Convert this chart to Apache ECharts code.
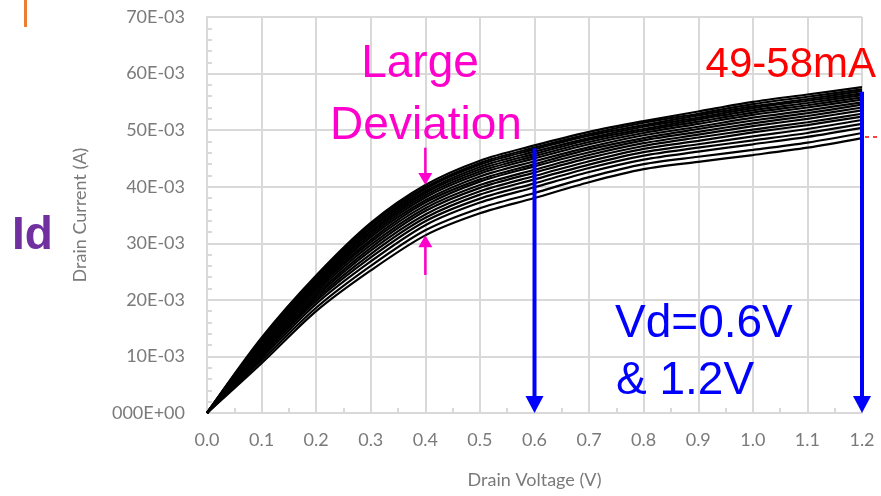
<!DOCTYPE html>
<html>
<head>
<meta charset="utf-8">
<script src="https://cdn.jsdelivr.net/npm/echarts@6/dist/echarts.min.js"></script>
<style>
  html, body { margin: 0; padding: 0; background: #fff; }
  #chart { width: 881px; height: 496px; }
</style>
</head>
<body>
<div id="chart"></div>
<script>
// drain voltage steps (V)
const volts = [0, 0.1, 0.2, 0.3, 0.4, 0.5, 0.6, 0.7, 0.8, 0.9, 1.0, 1.1, 1.2];

// drain current curves in mA (top of the band first)
const curves = [
  [0, 13.3, 24.3, 33.6, 40.3, 44.6, 47.3, 49.7, 51.6, 53.3, 55.0, 56.3, 57.6],
  [0, 13.1, 24.0, 33.3, 39.9, 44.2, 46.9, 49.3, 51.3, 52.9, 54.6, 55.9, 57.2],
  [0, 12.9, 23.8, 32.9, 39.6, 43.9, 46.6, 49.0, 50.9, 52.6, 54.2, 55.5, 56.9],
  [0, 12.8, 23.5, 32.6, 39.2, 43.5, 46.2, 48.6, 50.6, 52.2, 53.9, 55.2, 56.5],
  [0, 12.6, 23.3, 32.2, 38.9, 43.1, 45.8, 48.3, 50.2, 51.9, 53.5, 54.8, 56.2],
  [0, 12.4, 23.0, 31.9, 38.5, 42.7, 45.4, 47.9, 49.9, 51.5, 53.1, 54.4, 55.8],
  [0, 12.2, 22.7, 31.5, 38.1, 42.3, 45.0, 47.5, 49.5, 51.1, 52.7, 54.0, 55.4],
  [0, 12.0, 22.4, 31.1, 37.6, 41.8, 44.5, 47.0, 49.1, 50.6, 52.2, 53.5, 54.9],
  [0, 11.7, 22.1, 30.6, 37.2, 41.3, 44.0, 46.6, 48.6, 50.2, 51.7, 53.0, 54.5],
  [0, 11.5, 21.8, 30.2, 36.7, 40.9, 43.6, 46.1, 48.2, 49.7, 51.2, 52.5, 54.0],
  [0, 11.2, 21.4, 29.7, 36.2, 40.3, 43.0, 45.6, 47.7, 49.2, 50.7, 52.0, 53.5],
  [0, 11.0, 21.0, 29.2, 35.7, 39.8, 42.5, 45.1, 47.2, 48.7, 50.1, 51.4, 52.9],
  [0, 10.7, 20.6, 28.7, 35.1, 39.2, 41.9, 44.5, 46.7, 48.1, 49.6, 50.9, 52.4],
  [0, 10.4, 20.2, 28.1, 34.5, 38.6, 41.3, 43.9, 46.1, 47.5, 48.9, 50.2, 51.8],
  [0, 10.1, 19.8, 27.5, 33.9, 37.9, 40.6, 43.3, 45.5, 46.9, 48.2, 49.5, 51.1],
  [0, 9.7, 19.3, 26.8, 33.2, 37.2, 39.9, 42.6, 44.8, 46.2, 47.5, 48.8, 50.4],
  [0, 9.3, 18.6, 26.0, 32.3, 36.2, 38.9, 41.7, 44.0, 45.3, 46.5, 47.8, 49.5],
  [0, 8.8, 18.0, 25.2, 31.4, 35.3, 38.0, 40.8, 43.1, 44.4, 45.6, 46.9, 48.6]
];

// y tick labels, one per 10 mA
const yTickLabels = ['000E+00', '10E-03', '20E-03', '30E-03', '40E-03', '50E-03', '60E-03', '70E-03'];

const gridColor = '#d9d9d9';
const labelColor = '#7a7a7a';
const axisFont = 'Lato, "Noto Sans", sans-serif';
const textFont = '"Liberation Sans", Arial, sans-serif';

const chart = echarts.init(document.getElementById('chart'));

const series = curves.map(c => ({
  type: 'line',
  data: volts.map((v, i) => [v, c[i]]),
  showSymbol: false,
  smooth: 0.3,
  silent: true,
  lineStyle: { color: '#000', width: 2.2 },
  z: 3
}));

chart.setOption({
  animation: false,
  grid: { left: 207, right: 19, top: 17, bottom: 83 },
  xAxis: {
    type: 'value',
    min: 0,
    max: 1.2,
    interval: 0.1,
    name: 'Drain Voltage (V)',
    nameLocation: 'middle',
    nameGap: 58,
    nameTextStyle: { color: labelColor, fontFamily: axisFont, fontSize: 18 },
    axisLine: { lineStyle: { color: gridColor, width: 2 } },
    axisTick: { show: true, inside: true, length: 5, lineStyle: { color: gridColor, width: 2 } },
    minorTick: { show: true, splitNumber: 2, length: 5, lineStyle: { color: gridColor, width: 2 } },
    splitLine: { show: true, lineStyle: { color: gridColor, width: 2 } },
    axisLabel: {
      color: labelColor, fontFamily: axisFont, fontSize: 18, margin: 18,
      formatter: v => v.toFixed(1)
    }
  },
  yAxis: {
    type: 'value',
    min: 0,
    max: 70,
    interval: 10,
    name: 'Drain Current (A)',
    nameLocation: 'middle',
    nameGap: 118,
    nameTextStyle: { color: labelColor, fontFamily: axisFont, fontSize: 18 },
    axisLine: { show: true, lineStyle: { color: gridColor, width: 2 } },
    axisTick: { show: true, inside: true, length: 5, lineStyle: { color: gridColor, width: 2 } },
    minorTick: { show: true, splitNumber: 5, length: 5, lineStyle: { color: gridColor, width: 2 } },
    splitLine: { show: true, lineStyle: { color: gridColor, width: 2 } },
    axisLabel: {
      color: labelColor, fontFamily: axisFont, fontSize: 18, margin: 22,
      formatter: v => yTickLabels[Math.round(v / 10)]
    }
  },
  series: series
});

// annotations, anchored in data space
const px = p => chart.convertToPixel({ gridIndex: 0 }, p);

function arrow(from, to, color, width, head, headLen) {
  const a = px(from), b = px(to);
  const dir = Math.sign(b[1] - a[1]);
  const base = b[1] - dir * headLen;
  return [
    { type: 'line', shape: { x1: a[0], y1: a[1], x2: b[0], y2: base + dir * 1 },
      style: { stroke: color, lineWidth: width }, z: 10 },
    { type: 'polygon', shape: { points: [[b[0] - head / 2, base], [b[0] + head / 2, base], [b[0], b[1]]] },
      style: { fill: color }, z: 10 }
  ];
}

const redPt = px([1.2, 48.8]);
const graphic = [].concat(
  arrow([0.6, 46.8], [0.6, 0], '#0000ff', 4, 18, 17),
  arrow([1.2, 56.8], [1.2, 0], '#0000ff', 4, 18, 17),
  arrow([0.4, 46.9], [0.4, 40.3], '#ff00cc', 2.5, 14, 12),
  arrow([0.4, 24.4], [0.4, 31.4], '#ff00cc', 2.5, 14, 12),
  [
    { type: 'line', shape: { x1: redPt[0] + 3, y1: redPt[1], x2: 881, y2: redPt[1] },
      style: { stroke: '#ff0000', lineWidth: 1.5, lineDash: [4, 4] }, z: 9 },
    { type: 'rect', shape: { x: 24, y: 0, width: 3, height: 27 }, style: { fill: '#ed7d31' } },
    { type: 'text', x: 12, y: 236,
      style: { text: 'Id', font: 'bold 46px ' + textFont, fill: '#7030a0', verticalAlign: 'middle' } },
    { type: 'text', x: 420, y: 41, z: 11,
      style: { text: 'Large', font: '46px ' + textFont, fill: '#ff00cc', align: 'center', verticalAlign: 'top' } },
    { type: 'text', x: 426, y: 103, z: 11,
      style: { text: 'Deviation', font: '46px ' + textFont, fill: '#ff00cc', align: 'center', verticalAlign: 'top' } },
    { type: 'text', x: 876, y: 44, z: 11,
      style: { text: '49-58mA', font: '42px ' + textFont, fill: '#ff0000', align: 'right', verticalAlign: 'top' } },
    { type: 'text', x: 615, y: 301, z: 11,
      style: { text: 'Vd=0.6V', font: '46px ' + textFont, fill: '#0000ff', verticalAlign: 'top' } },
    { type: 'text', x: 616, y: 358, z: 11,
      style: { text: '& 1.2V', font: '46px ' + textFont, fill: '#0000ff', verticalAlign: 'top' } }
  ]
);

chart.setOption({ graphic: graphic });
</script>
</body>
</html>
